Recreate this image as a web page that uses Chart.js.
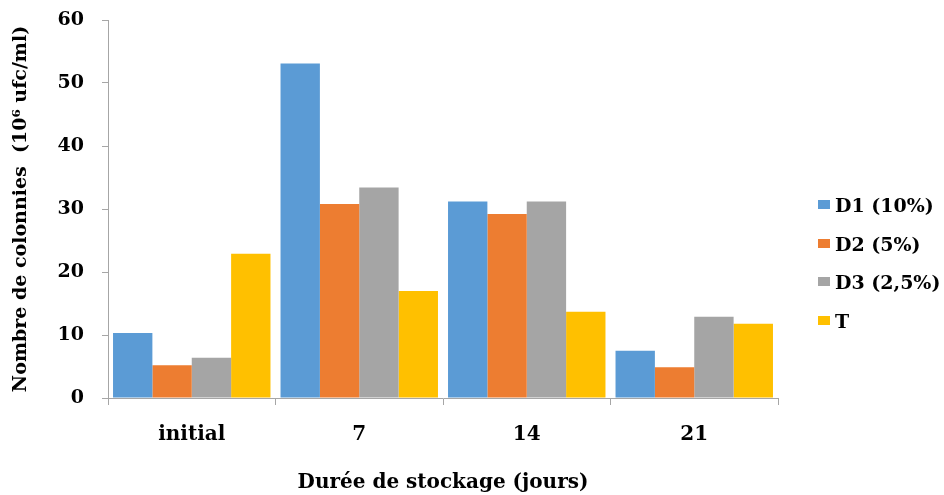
<!DOCTYPE html>
<html><head><meta charset="utf-8">
<script src="https://cdn.jsdelivr.net/npm/chart.js@4"></script>
<style>
html,body{margin:0;padding:0;background:#fff;}
#wrap{position:relative;width:944px;height:495px;}
canvas{display:block;}
#legend{position:absolute;left:818px;top:0;font:bold 19px 'DejaVu Serif';color:#000;}
.item{position:absolute;left:0;white-space:nowrap;height:24px;line-height:24px;}
.sw{position:absolute;left:0;top:7px;width:12px;height:9px;}
.lbl{position:absolute;left:17px;top:0;}
</style></head>
<body>
<div id="wrap"><canvas id="c" width="944" height="495"></canvas><div id="legend"></div></div>
<script>
const categories = ['initial', '7', '14', '21'];
const seriesNames = ['D1 (10%)', 'D2 (5%)', 'D3 (2,5%)', 'T'];
const seriesColors = ['#5B9BD5', '#ED7D31', '#A5A5A5', '#FFC000'];
const d1Values = [10.3, 53.1, 31.2, 7.5];
const d2Values = [5.2, 30.8, 29.2, 4.9];
const d3Values = [6.4, 33.4, 31.2, 12.9];
const tValues = [22.9, 17.0, 13.7, 11.8];
const yTicks = [0, 10, 20, 30, 40, 50, 60];
const xTitle = 'Durée de stockage (jours)';
const yTitle = 'Nombre de colonnies  (10\u2076 ufc/ml)';

const allValues = [d1Values, d2Values, d3Values, tValues];
const axisColor = '#A6A6A6';
const fam = "'DejaVu Serif', 'Liberation Serif', serif";

const datasets = allValues.map((vals, i) => ({
  label: seriesNames[i],
  data: vals,
  backgroundColor: seriesColors[i],
  borderWidth: 0,
  categoryPercentage: 0.94,
  barPercentage: 1.0
}));

new Chart(document.getElementById('c'), {
  type: 'bar',
  data: { labels: categories, datasets },
  options: {
    responsive: false,
    devicePixelRatio: 1,
    animation: false,
    layout: { padding: { left: 10, right: 166, top: 20, bottom: 0 } },
    plugins: { legend: { display: false }, tooltip: { enabled: false } },
    scales: {
      x: {
        grid: { display: true, drawOnChartArea: false, drawTicks: true, tickLength: 7, color: axisColor, offset: true },
        border: { display: true, color: axisColor, width: 1 },
        ticks: { font: { family: fam, weight: 'bold', size: 20 }, color: '#000', padding: 18, maxRotation: 0 },
        title: { display: true, text: xTitle, color: '#000', font: { family: fam, weight: 'bold', size: 20 }, padding: { top: 0, bottom: 0 } },
        afterFit(s) { s.height = 97; s.paddingLeft = 0; s.paddingRight = 0; }
      },
      y: {
        min: yTicks[0],
        max: yTicks[yTicks.length - 1],
        afterBuildTicks(s) { s.ticks = yTicks.map(v => ({ value: v })); },
        grid: { display: true, drawOnChartArea: false, drawTicks: true, tickLength: 6, color: axisColor },
        border: { display: true, color: axisColor, width: 1 },
        ticks: { font: { family: fam, weight: 'bold', size: 19 }, color: '#000', padding: 18 },
        title: { display: true, text: yTitle, color: '#000', font: { family: fam, weight: 'bold', size: 19 }, padding: 0 },
        afterFit(s) { s.width = 98; s.paddingTop = 0; s.paddingBottom = 0; }
      }
    }
  }
});

const legend = document.getElementById('legend');
seriesNames.forEach((name, i) => {
  const item = document.createElement('div');
  item.className = 'item';
  item.style.top = (193 + i * 38.5) + 'px';
  const sw = document.createElement('span');
  sw.className = 'sw';
  sw.style.background = seriesColors[i];
  const lbl = document.createElement('span');
  lbl.className = 'lbl';
  lbl.textContent = name;
  item.appendChild(sw);
  item.appendChild(lbl);
  legend.appendChild(item);
});
</script>
</body></html>
